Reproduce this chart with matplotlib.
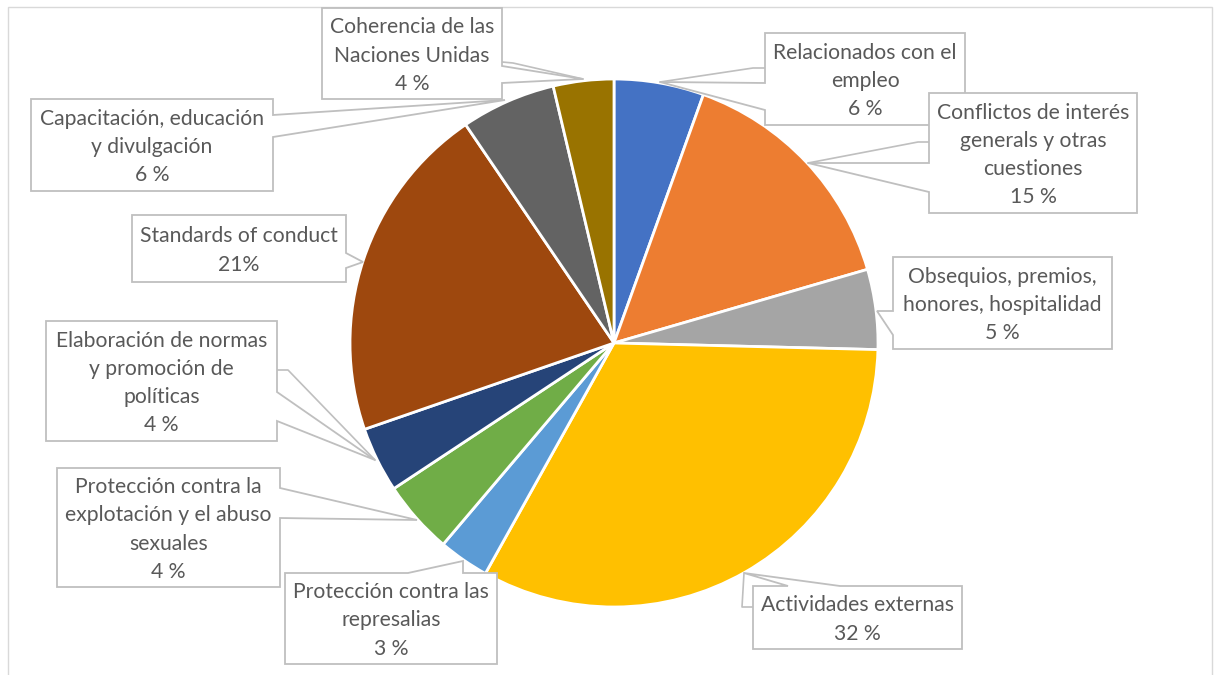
import matplotlib
matplotlib.use("Agg")
import matplotlib.pyplot as plt
from matplotlib.patches import Polygon, Rectangle

# ---- data (clockwise from 12 o'clock) ----
categories = [
    "Relacionados con el\nempleo",
    "Conflictos de interés\ngenerals y otras\ncuestiones",
    "Obsequios, premios,\nhonores, hospitalidad",
    "Actividades externas",
    "Protección contra las\nrepresalias",
    "Protección contra la\nexplotación y el abuso\nsexuales",
    "Elaboración de normas\ny promoción de\npolíticas",
    "Standards of conduct",
    "Capacitación, educación\ny divulgación",
    "Coherencia de las\nNaciones Unidas",
]
values = [5.5, 15.0, 4.9, 32.7, 3.1, 4.5, 4.0, 20.8, 5.8, 3.7]
pct_labels = ["6 %", "15 %", "5 %", "32 %", "3 %", "4 %", "4 %", "21%", "6 %", "4 %"]
colors = ["#4472C4", "#ED7D31", "#A5A5A5", "#FFC000", "#5B9BD5",
          "#70AD47", "#264478", "#9E480E", "#636363", "#997300"]

# ---- layout (pixel coords, y downward) ----
W, H = 1215, 675
CX, CY, R = 614, 343, 264
# box: (x0, x1, y0, y1), wedge side, base a..b along side, tip (x, y)
callouts = [
    ((765, 965, 33, 125), "left", (83, 110), (660, 82)),
    ((929, 1137, 93, 213), "left", (163, 192), (808, 163)),
    ((893, 1112, 257, 349), "left", (311, 335), (877, 311)),
    ((753, 962, 586, 649), "top", (788, 840), (744, 573)),
    ((285, 497, 573, 664), "top", (408, 463), (463, 561)),
    ((57, 280, 468, 587), "right", (488, 518), (417, 520)),
    ((46, 277, 321, 441), "right", (392, 421), (375, 460)),
    ((132, 346, 215, 282), "right", (253, 268), (363, 262)),
    ((31, 273, 99, 191), "right", (115, 137), (505, 100)),
    ((322, 502, 8, 99), "right", (66, 83), (583, 79)),
]
leaders = {
    0: [(765, 68), (753, 68), (660, 82)],
    1: [(929, 142), (918, 142), (808, 163)],
    3: [(753, 607), (742, 607), (744, 573)],
    6: [(277, 370), (288, 370), (375, 460)],
    9: [(502, 62), (513, 63), (583, 79)],
}

TEXT_COLOR = "#595959"
LINE_COLOR = "#BFBFBF"

fig = plt.figure(figsize=(W / 100, H / 100), dpi=100)
ax = fig.add_axes([0, 0, 1, 1])

def P(x, y):
    return (x, H - y)

ax.pie(values, colors=colors, startangle=90, counterclock=False,
       center=P(CX, CY), radius=R,
       wedgeprops=dict(edgecolor="white", linewidth=2.0))

ax.set_xlim(0, W)
ax.set_ylim(0, H)
ax.set_aspect("auto")
ax.axis("off")

# chart border
ax.add_patch(Rectangle(P(8, 678), 1204, 671, fill=False,
                       edgecolor="#D9D9D9", linewidth=1.0, zorder=1))

for i, (box, side, (a, b), tip) in enumerate(callouts):
    if i in leaders:
        pts = [P(*p) for p in leaders[i]]
        ax.plot([p[0] for p in pts], [p[1] for p in pts],
                color=LINE_COLOR, linewidth=1.2, zorder=4)
for i, (box, side, (a, b), tip) in enumerate(callouts):
    x0, x1, y0, y1 = box
    if side == "right":
        verts = [(x0, y0), (x1, y0), (x1, a), tip, (x1, b), (x1, y1), (x0, y1)]
    elif side == "left":
        verts = [(x0, y0), (x1, y0), (x1, y1), (x0, y1), (x0, b), tip, (x0, a)]
    else:  # top
        verts = [(x0, y0), (a, y0), tip, (b, y0), (x1, y0), (x1, y1), (x0, y1)]
    ax.add_patch(Polygon([P(*v) for v in verts], closed=True, facecolor="white",
                         edgecolor=LINE_COLOR, linewidth=1.3, zorder=5))
    ax.text((x0 + x1) / 2, H - (y0 + y1) / 2 - 2.0,
            categories[i] + "\n" + pct_labels[i],
            ha="center", va="center", multialignment="center",
            fontsize=15.2, family=["Lato", "DejaVu Sans"], color=TEXT_COLOR,
            linespacing=1.52, zorder=6)

fig.savefig("out.png", dpi=100)
